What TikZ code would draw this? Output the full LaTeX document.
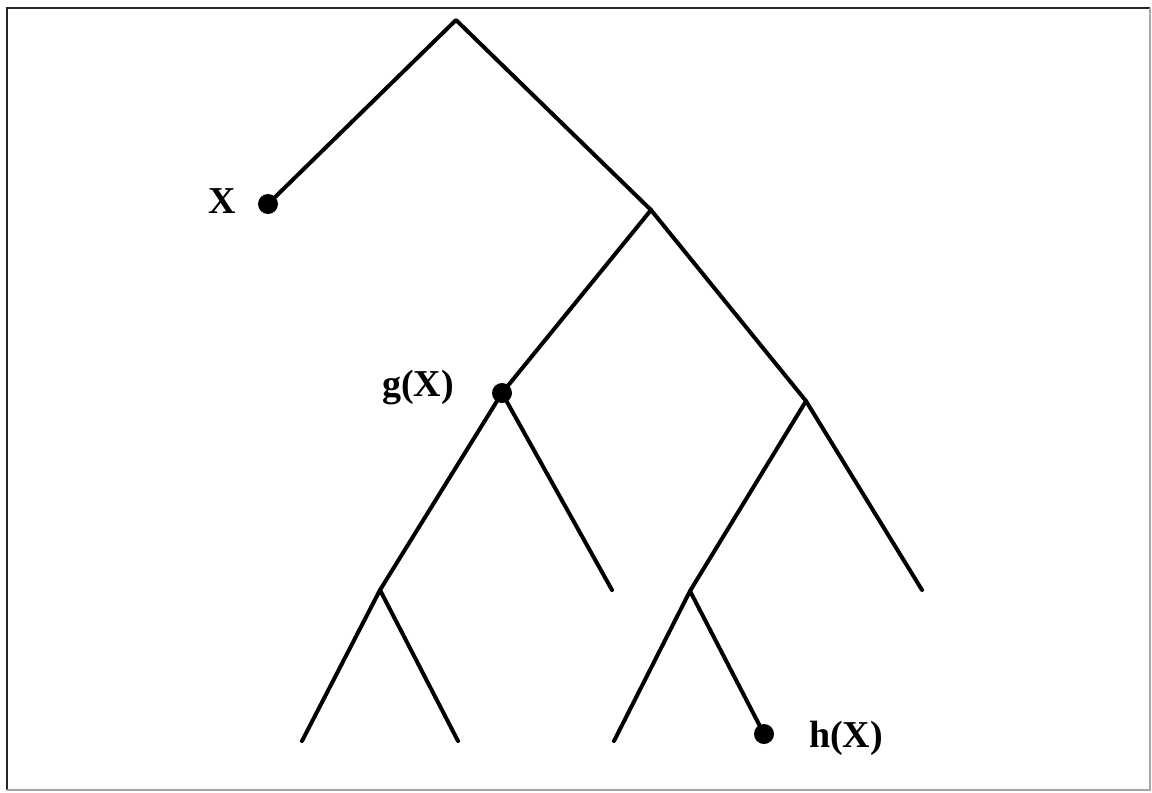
\documentclass[tikz,border=0pt]{standalone}
\usepackage{fontspec}
\setmainfont{Liberation Serif}
\begin{document}
\begin{tikzpicture}[x=0.5pt,y=-0.5pt,
  branch/.style={line width=2pt,line cap=round,line join=round},
  dot/.style={circle,fill=black,inner sep=0pt,minimum size=10pt},
  lbl/.style={font=\bfseries\fontsize{19}{22}\selectfont,inner sep=0pt}]
\useasboundingbox (0,0) rectangle (1152,793);
\fill[white] (0,0) rectangle (1152,793);
\draw[line width=1.3pt,black!85] (1150,8) -- (7,8) -- (7,790);
\draw[line width=0.8pt,black!35] (1150,8) -- (1150,790) -- (7,790);
% junctions
\coordinate (r) at (456,20);
\coordinate (a) at (651,210);
\coordinate (b) at (806,401);
\coordinate (c) at (380,590);
\coordinate (d) at (690,591);
\coordinate (l1) at (612,590);
\coordinate (l2) at (922,590);
\coordinate (l3) at (302,741);
\coordinate (l4) at (458,741);
\coordinate (l5) at (614,741);
% dots
\node[dot] (x) at (268,204) {};
\node[dot] (g) at (502,393) {};
\node[dot] (h) at (764,734) {};
% branches
\draw[branch] (x.center) -- (r) -- (a) -- (b) -- (l2);
\draw[branch] (a) -- (g.center) -- (c) -- (l3);
\draw[branch] (g.center) -- (l1);
\draw[branch] (c) -- (l4);
\draw[branch] (b) -- (d) -- (l5);
\draw[branch] (d) -- (h.center);
% labels
\node[lbl] (xl) at (222,201) {X};
\node[lbl] (gl) at (418,388) {g(X)};
\node[lbl] (hl) at (846,738) {h(X)};
\end{tikzpicture}
\end{document}
